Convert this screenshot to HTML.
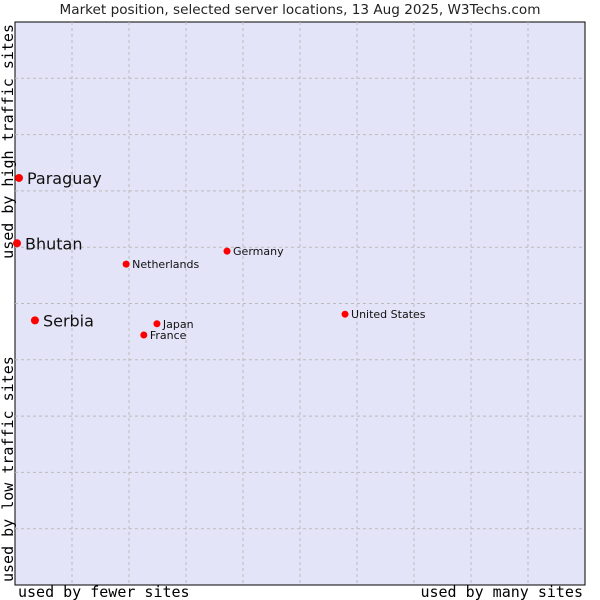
<!DOCTYPE html>
<html><head><meta charset="utf-8"><style>
body{margin:0;background:#fff;}
svg{display:block;}
</style></head><body>
<svg id="chart" width="600" height="600" xmlns="http://www.w3.org/2000/svg">
<text x="300" y="14" text-anchor="middle" font-family="DejaVu Sans, sans-serif" font-size="13.6" fill="#222">Market position, selected server locations, 13 Aug 2025, W3Techs.com</text>
<rect x="15" y="22" width="570" height="563" fill="#e4e4f8" stroke="#000" stroke-width="1"/>
<g id="grid"></g>
<g id="points"></g>
<text x="18" y="597" font-family="DejaVu Sans Mono, monospace" font-size="15" fill="#000">used by fewer sites</text>
<text x="583" y="597" text-anchor="end" font-family="DejaVu Sans Mono, monospace" font-size="15" fill="#000">used by many sites</text>
<text transform="translate(13,24) rotate(-90)" text-anchor="end" font-family="DejaVu Sans Mono, monospace" font-size="15" fill="#000">used by high traffic sites</text>
<text transform="translate(13,582) rotate(-90)" font-family="DejaVu Sans Mono, monospace" font-size="15" fill="#000">used by low traffic sites</text>
</svg>
<script>
const names=["Paraguay","Bhutan","Serbia","Netherlands","Germany","United States","Japan","France"];
const xVals=[0.7,0.35,3.5,19.5,37.2,57.9,24.9,22.6];
const yVals=[72.3,60.7,47.0,57.0,59.3,48.1,46.4,44.4];
const big=[true,true,true,false,false,false,false,false];
const ns="http://www.w3.org/2000/svg";
const X0=15,X1=585,Y0=585,Y1=22;
const sx=v=>X0+(X1-X0)*v/100, sy=v=>Y0-(Y0-Y1)*v/100;
const grid=document.getElementById('grid');
for(let i=1;i<10;i++){
  const a=document.createElementNS(ns,'line');
  
  
  a.setAttribute('x1',sx(i*10));a.setAttribute('x2',sx(i*10));a.setAttribute('y1',Y1);a.setAttribute('y2',Y0);
  a.setAttribute('stroke','#bbb');a.setAttribute('stroke-dasharray','3,3');grid.appendChild(a);
  const b=document.createElementNS(ns,'line');
  
  
  b.setAttribute('y1',sy(i*10));b.setAttribute('y2',sy(i*10));b.setAttribute('x1',X0);b.setAttribute('x2',X1);
  b.setAttribute('stroke','#bbb');b.setAttribute('stroke-dasharray','3,3');grid.appendChild(b);
}
const pg=document.getElementById('points');
names.forEach((n,i)=>{
  const x=sx(xVals[i]),y=sy(yVals[i]);
  const c=document.createElementNS(ns,'circle');
  
  
  c.setAttribute('cx',x);c.setAttribute('cy',y);c.setAttribute('r',big[i]?4:3.5);c.setAttribute('fill','#f00');
  pg.appendChild(c);
  const t=document.createElementNS(ns,'text');
  
  
  t.setAttribute('x',x+(big[i]?8:6));t.setAttribute('y',y+(big[i]?6:4));
  t.setAttribute('font-family','DejaVu Sans, sans-serif');t.setAttribute('font-size',big[i]?16:11);t.setAttribute('fill','#111');
  t.textContent=n;pg.appendChild(t);
});
</script>
</body></html>
